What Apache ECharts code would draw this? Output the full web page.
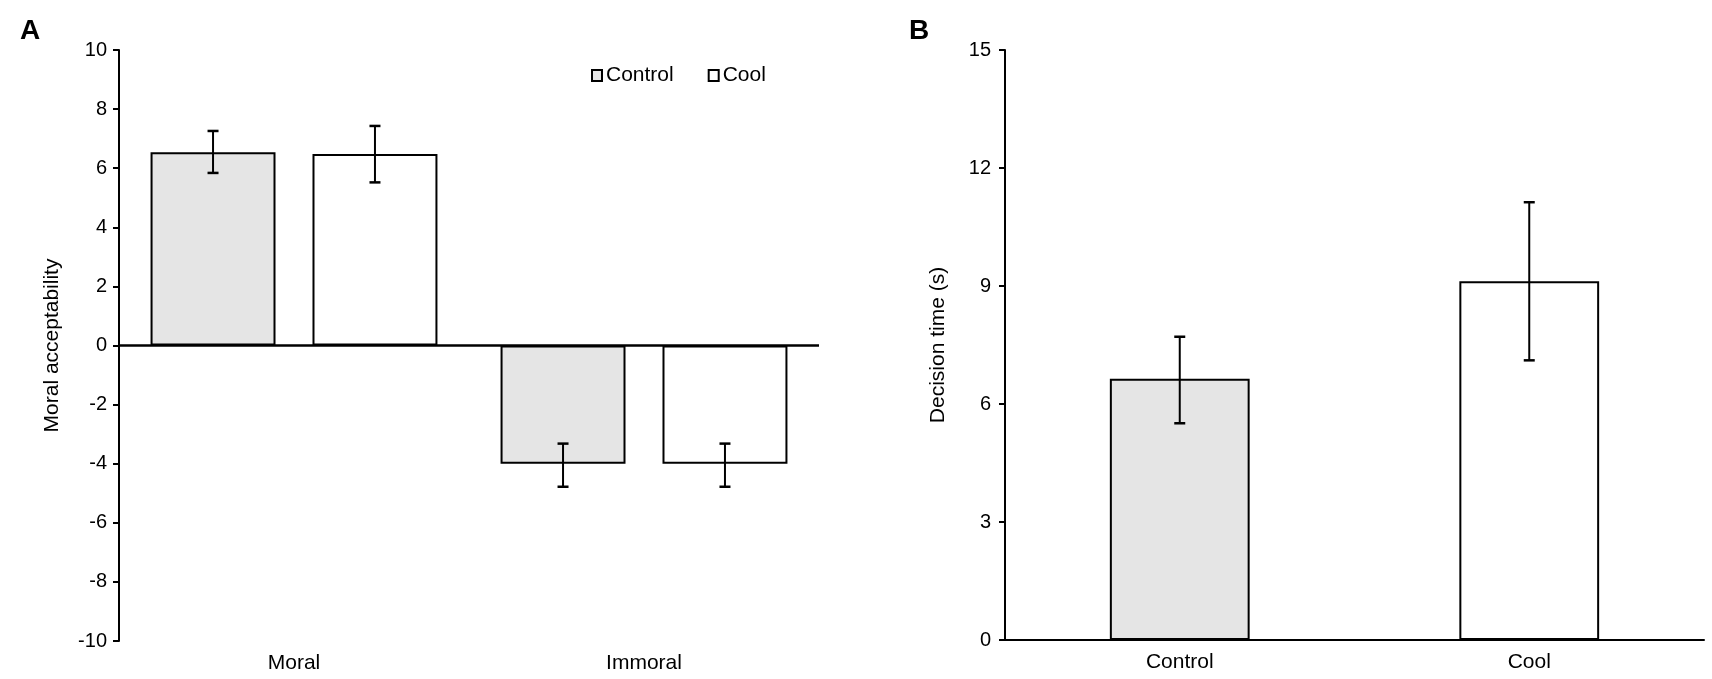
<!DOCTYPE html>
<html>
<head>
<meta charset="utf-8">
<script src="https://cdn.jsdelivr.net/npm/echarts@6/dist/echarts.min.js"></script>
<style>
  html, body { margin: 0; padding: 0; background: #fff; }
  #main { width: 1712px; height: 679px; }
</style>
</head>
<body>
<div id="main"></div>
<script>
// panel A: moral acceptability
var catsA = ['Moral', 'Immoral']
var controlA = [6.54, -4.0]
var coolA = [6.48, -4.0]
var controlLowA = [5.84, -4.78]
var controlHighA = [7.26, -3.32]
var coolLowA = [5.52, -4.78]
var coolHighA = [7.43, -3.32]
var ticksA = { min: -10, max: 10, step: 2 }

// panel B: decision time
var catsB = ['Control', 'Cool']
var timeB = [6.64, 9.12]
var lowB = [5.51, 7.11]
var highB = [7.71, 11.13]
var ticksB = { min: 0, max: 15, step: 3 }

var FONT = '"Liberation Sans", Arial, Helvetica, sans-serif'
var BAR_A = 0.357 // bar width / band
var GAP_A = 0.296 // gap / bar width
var BAR_B = 0.40

// error bar drawn with custom series, shift = offset of the bar inside its band
function errorBar (barFrac, gapFrac, side) {
  return function (params, api) {
    var i = api.value(0)
    var band = api.size([1, 0])[0]
    var bw = band * barFrac
    var shift = side * (bw + bw * gapFrac) / 2
    var lo = api.coord([i, api.value(1)])
    var hi = api.coord([i, api.value(2)])
    var x = lo[0] + shift
    var cap = 5.5
    var st = { stroke: '#000', lineWidth: 2 }
    return {
      type: 'group',
      children: [
        { type: 'line', shape: { x1: x, y1: lo[1], x2: x, y2: hi[1] }, style: st },
        { type: 'line', shape: { x1: x - cap, y1: lo[1], x2: x + cap, y2: lo[1] }, style: { stroke: '#000', lineWidth: 2.5 } },
        { type: 'line', shape: { x1: x - cap, y1: hi[1], x2: x + cap, y2: hi[1] }, style: { stroke: '#000', lineWidth: 2.5 } }
      ]
    }
  }
}

function errData (low, high) {
  return low.map(function (v, i) { return [i, v, high[i]] })
}

var axisTxt = { color: '#000', fontSize: 20, fontFamily: FONT }
var blackLine = { show: true, lineStyle: { color: '#000', width: 2 } }

var chart = echarts.init(document.getElementById('main'))
chart.setOption({
  animation: false,
  backgroundColor: '#fff',
  title: [
    { text: 'A', left: 15, top: 12, textStyle: { fontSize: 28, fontWeight: 'bold', color: '#000', fontFamily: FONT } },
    { text: 'B', left: 904, top: 12, textStyle: { fontSize: 28, fontWeight: 'bold', color: '#000', fontFamily: FONT } }
  ],
  legend: {
    data: ['Control', 'Cool'],
    left: 586,
    top: 60,
    icon: 'rect',
    itemWidth: 10,
    itemHeight: 11,
    itemGap: 34,
    textStyle: { color: '#000', fontSize: 21, fontFamily: FONT, padding: [0, 0, 0, -1] }
  },
  grid: [
    { left: 119, right: 893, top: 50, bottom: 38 },
    { left: 1005, right: 8, top: 50, bottom: 39 }
  ],
  xAxis: [
    {
      type: 'category', gridIndex: 0, data: catsA,
      axisLine: { show: false, onZero: false },
      axisTick: { show: false },
      axisLabel: { color: '#000', fontSize: 21, fontFamily: FONT, margin: 12 }
    },
    {
      type: 'category', gridIndex: 1, data: catsB,
      axisLine: blackLine,
      axisTick: { show: false },
      axisLabel: { color: '#000', fontSize: 21, fontFamily: FONT, margin: 12 }
    }
  ],
  yAxis: [
    {
      type: 'value', gridIndex: 0,
      min: ticksA.min, max: ticksA.max, interval: ticksA.step,
      name: 'Moral acceptability', nameLocation: 'middle', nameGap: 56,
      nameTextStyle: { color: '#000', fontSize: 21, fontFamily: FONT },
      axisLine: blackLine,
      axisTick: { show: true, length: 6, lineStyle: { color: '#000', width: 2 } },
      axisLabel: Object.assign({ margin: 12 }, axisTxt),
      splitLine: { show: false }
    },
    {
      type: 'value', gridIndex: 1,
      min: ticksB.min, max: ticksB.max, interval: ticksB.step,
      name: 'Decision time (s)', nameLocation: 'middle', nameGap: 56,
      nameTextStyle: { color: '#000', fontSize: 21, fontFamily: FONT },
      axisLine: blackLine,
      axisTick: { show: true, length: 6, lineStyle: { color: '#000', width: 2 } },
      axisLabel: Object.assign({ margin: 14 }, axisTxt),
      splitLine: { show: false }
    }
  ],
  series: [
    {
      name: 'Control', type: 'bar', xAxisIndex: 0, yAxisIndex: 0,
      data: controlA,
      barWidth: (BAR_A * 100) + '%',
      barGap: (GAP_A * 100) + '%',
      itemStyle: { color: '#e5e5e5', borderColor: '#000', borderWidth: 2 },
      markLine: {
        silent: true, symbol: 'none', label: { show: false },
        lineStyle: { color: '#000', width: 2.5, type: 'solid', opacity: 1 },
        emphasis: { disabled: true },
        data: [{ yAxis: 0 }]
      }
    },
    {
      name: 'Cool', type: 'bar', xAxisIndex: 0, yAxisIndex: 0,
      data: coolA,
      barWidth: (BAR_A * 100) + '%',
      barGap: (GAP_A * 100) + '%',
      itemStyle: { color: '#ffffff', borderColor: '#000', borderWidth: 2 }
    },
    {
      name: 'errControl', type: 'custom', xAxisIndex: 0, yAxisIndex: 0,
      renderItem: errorBar(BAR_A, GAP_A, -1),
      data: errData(controlLowA, controlHighA), z: 5
    },
    {
      name: 'errCool', type: 'custom', xAxisIndex: 0, yAxisIndex: 0,
      renderItem: errorBar(BAR_A, GAP_A, 1),
      data: errData(coolLowA, coolHighA), z: 5
    },
    {
      name: 'Decision time', type: 'bar', xAxisIndex: 1, yAxisIndex: 1,
      barWidth: (BAR_B * 100) + '%',
      data: timeB.map(function (v, i) {
        return { value: v, itemStyle: { color: i === 0 ? '#e5e5e5' : '#ffffff' } }
      }),
      itemStyle: { borderColor: '#000', borderWidth: 2 }
    },
    {
      name: 'errTime', type: 'custom', xAxisIndex: 1, yAxisIndex: 1,
      renderItem: errorBar(BAR_B, 0, 0),
      data: errData(lowB, highB), z: 5
    }
  ]
})
</script>
</body>
</html>
